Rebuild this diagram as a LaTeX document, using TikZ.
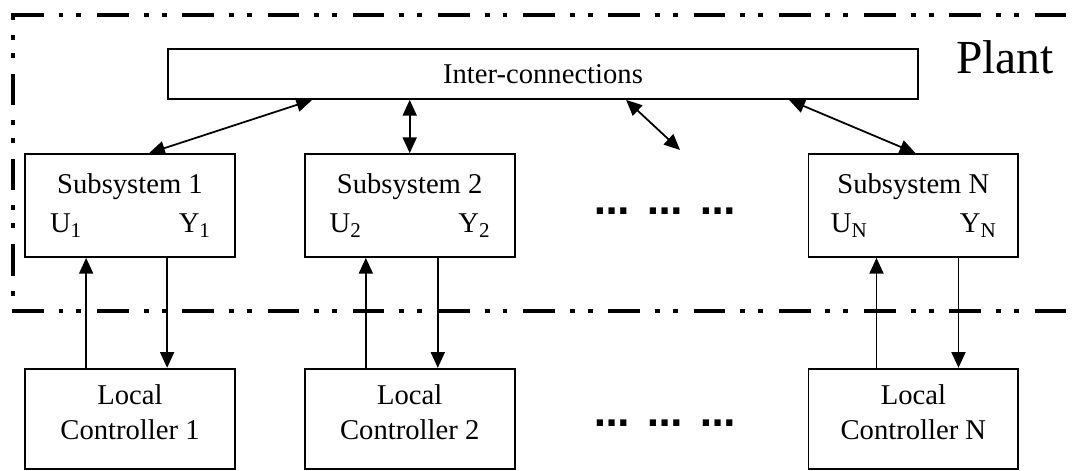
\documentclass[tikz,border=0pt]{standalone}
\usepackage{fontspec}
\setmainfont{Liberation Serif}
\newfontfamily\dotfont{DejaVu Sans}
\usetikzlibrary{arrows.meta,positioning,calc}
% port label with a lowered index
\newcommand{\port}[2]{#1\raisebox{-0.35ex}{\fontsize{12}{12}\selectfont #2}}
\tikzset{
  subsys/.style={
    rectangle, draw=black, line width=1pt,
    minimum width=4.2cm, minimum height=2.06cm, inner sep=0pt,
    font=\fontsize{16.3}{19}\selectfont, align=center
  },
  ctrl/.style={
    rectangle, draw=black, line width=1pt,
    minimum width=4.2cm, minimum height=2.0cm, inner sep=0pt,
    font=\fontsize{16.3}{20}\selectfont, align=center, text depth=8pt
  },
  bus/.style={
    rectangle, draw=black, line width=1pt,
    minimum width=15cm, minimum height=1cm, inner sep=0pt,
    font=\fontsize{16.3}{19}\selectfont
  },
  link/.style={{Triangle[length=9pt,width=8pt]}-{Triangle[length=9pt,width=8pt]}, line width=1pt},
  signal/.style={-{Triangle[length=9pt,width=8pt]}, line width=1pt},
  plantline/.style={
    line width=2.3pt,
    dash pattern=on 18pt off 8.5pt on 2.8pt off 7.4pt on 2.8pt off 9pt
  },
  etc/.style={font=\dotfont\bfseries\fontsize{20}{24}\selectfont, inner sep=0pt},
}

\begin{document}
\begin{tikzpicture}[x=0.02cm, y=-0.02cm]
  \useasboundingbox (0,0) rectangle (1074,470);

  % Plant boundary
  \draw[plantline] (12,15) -- (1074,15);
  \draw[plantline, dash phase=14pt] (13,13) -- (13,306);
  \draw[plantline] (12,311) -- (1074,311);
  \node[font=\fontsize{27}{30}\selectfont] (plant) at (1005,57) {Plant};

  % Interconnection bus
  \node[bus] (inter) at (543,74) {Inter-connections};

  % Subsystems
  \node[subsys] (sub1) at (130,205.5)
    {Subsystem 1\\[3pt]\makebox[3.2cm]{\port{U}{1}\hfill\port{Y}{1}}};
  \node[subsys, right=1.36cm of sub1] (sub2)
    {Subsystem 2\\[3pt]\makebox[3.2cm]{\port{U}{2}\hfill\port{Y}{2}}};
  \node[subsys, right=5.84cm of sub2] (subN)
    {Subsystem N\\[3pt]\makebox[3.3cm]{\port{U}{N}\hfill\port{Y}{N}}};
  \node[etc] (dotsA) at (665,211) {…\hspace{0.5em}…\hspace{0.5em}…};

  % Local controllers
  \node[ctrl, below=2.2cm of sub1] (lc1) {Local\\Controller 1};
  \node[ctrl, below=2.2cm of sub2] (lc2) {Local\\Controller 2};
  \node[ctrl, below=2.2cm of subN] (lcN) {Local\\Controller N};
  \node[etc] (dotsB) at (665,423) {…\hspace{0.5em}…\hspace{0.5em}…};

  % Couplings through the bus
  \coordinate (more) at (680,150);
  \draw[link] ([xshift=2.9cm]inter.south west) -- ([xshift=2.5cm]sub1.north west);
  \draw[link] (inter.south -| sub2.north) -- (sub2.north);
  \draw[link] ([xshift=9.18cm]inter.south west) -- (more);
  \draw[link] ([xshift=12.44cm]inter.south west) -- ([xshift=2.16cm]subN.north west);

  % Inputs and outputs
  \draw[signal] ([xshift=1.24cm]lc1.north west) -- ([xshift=1.24cm]sub1.south west);
  \draw[signal] ([xshift=2.86cm]sub1.south west) -- ([xshift=2.86cm]lc1.north west);
  \draw[signal] ([xshift=1.24cm]lc2.north west) -- ([xshift=1.24cm]sub2.south west);
  \draw[signal] ([xshift=2.68cm]sub2.south west) -- ([xshift=2.68cm]lc2.north west);
  \draw[signal] ([xshift=1.38cm]lcN.north west) -- ([xshift=1.38cm]subN.south west);
  \draw[signal] ([xshift=3.02cm]subN.south west) -- ([xshift=3.02cm]lcN.north west);
\end{tikzpicture}
\end{document}
